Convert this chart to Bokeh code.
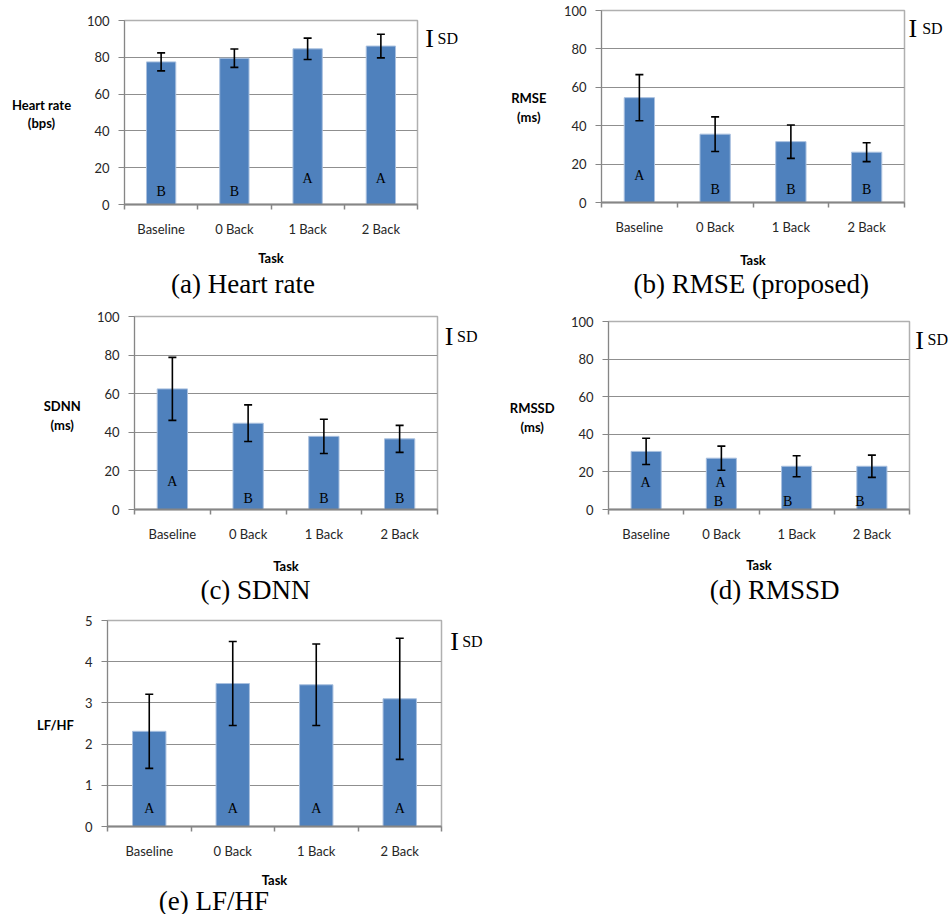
from bokeh.plotting import figure
from bokeh.models import Range1d, FixedTicker, TeeHead, Whisker, ColumnDataSource
from bokeh.layouts import column, row
from bokeh.core.properties import value
from bokeh.embed import file_html
from bokeh.resources import INLINE

# ---------------- data ----------------
tasks = ["Baseline", "0 Back", "1 Back", "2 Back"]

hr_mean = [77.5, 79.5, 84.6, 86.1]
hr_sd = [4.9, 5.0, 5.8, 6.4]
hr_groups = ["B", "B", "A", "A"]

rmse_mean = [54.6, 35.6, 31.7, 26.2]
rmse_sd = [12.0, 9.0, 8.7, 4.9]
rmse_groups = ["A", "B", "B", "B"]

sdnn_mean = [62.5, 44.7, 37.9, 36.6]
sdnn_sd = [16.3, 9.5, 8.9, 7.0]
sdnn_groups = ["A", "B", "B", "B"]

rmssd_mean = [30.9, 27.3, 23.0, 23.0]
rmssd_sd = [7.0, 6.4, 5.6, 5.9]
rmssd_groups = ["A", "AB", "B", "B"]

lfhf_mean = [2.31, 3.47, 3.44, 3.10]
lfhf_sd = [0.90, 1.02, 0.99, 1.47]
lfhf_groups = ["A", "A", "A", "A"]

ticks_pct = [0, 20, 40, 60, 80, 100]
ticks_ratio = [0, 1, 2, 3, 4, 5]

# ---------------- styling ----------------
SANS = "Lato"
SERIF = "Liberation Serif"
BAR = "#4f81bd"
AXIS = "#868686"


def add_text(p, x0, y0, items, font, size, style="normal", align="center", baseline="middle"):
    """Texts placed at pixel offsets (dx right, dy up) from the frame's lower-left corner."""
    src = ColumnDataSource(dict(
        x=[x0] * len(items), y=[y0] * len(items),
        text=[t for t, _, _ in items],
        dx=[d for _, d, _ in items],
        dy=[-e for _, _, e in items],
    ))
    p.text(x="x", y="y", text="text", x_offset="dx", y_offset="dy", source=src,
           level="overlay", text_font=value(font), text_font_size=value(size),
           text_font_style=style, text_align=align, text_baseline=baseline,
           text_color="black")


def make_panel(mean, sd, groups, y_ticks, ylab_lines, caption, L):
    n = len(tasks)
    centers = [i + 0.5 for i in range(n)]
    bounds = list(range(n + 1))
    p = figure(width=L["W"], height=L["H"],
               x_range=Range1d(0, n), y_range=Range1d(y_ticks[0], y_ticks[-1]),
               output_backend="svg", toolbar_location=None,
               min_border_left=L["left"], min_border_right=L["right"],
               min_border_top=L["top"], min_border_bottom=L["bottom"])
    if "frame_align" in p.properties():
        p.frame_align = False
    p.background_fill_color = "white"
    p.border_fill_color = "white"
    p.outline_line_color = "#b0b0b0"
    p.outline_line_width = 1.5
    p.xgrid.visible = False
    p.ygrid.grid_line_color = "#8f8f8f"
    p.ygrid.grid_line_width = 1

    src = ColumnDataSource(dict(
        x=centers, top=mean,
        upper=[m + s for m, s in zip(mean, sd)],
        lower=[m - s for m, s in zip(mean, sd)],
    ))
    p.vbar(x="x", top="top", bottom=y_ticks[0], width=0.4, source=src,
           fill_color=BAR, line_color="#a9c0df", line_width=1)
    p.add_layout(Whisker(source=src, base="x", upper="upper", lower="lower",
                         level="overlay", line_color="black", line_width=1.6,
                         upper_head=TeeHead(size=8, line_color="black", line_width=1.6),
                         lower_head=TeeHead(size=8, line_color="black", line_width=1.6)))

    # group letters (significance groups)
    ldx = L.get("letter_dx", [0] * n)
    lx, ly, lt, loff, lxo = [], [], [], [], []
    for c, g, d in zip(centers, groups, ldx):
        for ch in g:
            lx.append(c)
            ly.append(y_ticks[0])
            lt.append(ch)
            loff.append(-L["letter"][ch])
            lxo.append(d if ch == "B" else d * 0.3)
    p.text(x=lx, y=ly, text=lt, y_offset=loff, x_offset=lxo, text_align="center",
           text_baseline="middle", text_font=value(SERIF),
           text_font_size=value("14px"), text_color="black")

    # x axis
    xa = p.xaxis[0]
    xa.ticker = FixedTicker(ticks=centers, minor_ticks=bounds)
    xa.major_label_overrides = {c: t for c, t in zip(centers, tasks)}
    xa.major_tick_in = 0
    xa.major_tick_out = 0
    xa.minor_tick_in = 0
    xa.minor_tick_out = 5
    xa.minor_tick_line_color = AXIS
    xa.minor_tick_line_width = 1.5
    xa.axis_line_color = AXIS
    xa.axis_line_width = 2
    xa.major_label_standoff = 11
    xa.major_label_text_font = SANS
    xa.major_label_text_font_size = "13px"
    xa.major_label_text_color = "#262626"
    xa.axis_label = "Task"
    xa.axis_label_text_font = SANS
    xa.axis_label_text_font_style = "bold"
    xa.axis_label_text_font_size = "13px"
    xa.axis_label_text_color = "black"
    xa.axis_label_standoff = int(L["task_so"])

    # y axis
    ya = p.yaxis[0]
    ya.ticker = FixedTicker(ticks=y_ticks)
    ya.minor_tick_line_color = None
    ya.major_tick_in = 0
    ya.major_tick_out = 6
    ya.major_tick_line_color = AXIS
    ya.axis_line_color = AXIS
    ya.major_label_standoff = 9
    ya.major_label_text_font = SANS
    ya.major_label_text_font_size = "13px"
    ya.major_label_text_color = "#262626"

    x0, y0 = 0, y_ticks[0]
    # y label (horizontal, left of the axis)
    add_text(p, x0, y0, [(t, L["ylab_x"], yy) for t, yy in zip(ylab_lines, L["ylab_y"])],
             SANS, "13px", style="bold")
    # SD key: I-beam + "SD"
    add_text(p, x0, y0, [("I", L["sd_x"], L["sd_y"])], SERIF, "26px")
    add_text(p, x0, y0, [("SD", L["sd_tx"], L["sd_ty"])], SERIF, "16px", align="left")
    # caption
    add_text(p, x0, y0, [(caption, L["cap"][0], L["cap"][1])], SERIF, "27px")
    return p


pa = make_panel(hr_mean, hr_sd, hr_groups, ticks_pct, ["Heart rate", "(bps)"],
                "(a) Heart rate",
                dict(W=480, H=300, left=124, right=63, top=20, bottom=96,
                     ylab_x=-83, ylab_y=[99.7, 81.3], sd_x=305, sd_y=166.5,
                     sd_tx=313, sd_ty=166, cap=(118.5, -79), letter={"A": 25.7, "B": 13},
                     task_so=10))
pb = make_panel(rmse_mean, rmse_sd, rmse_groups, ticks_pct, ["RMSE", "(ms)"],
                "(b) RMSE (proposed)",
                dict(W=470, H=300, left=121, right=46, top=10, bottom=98,
                     ylab_x=-72.7, ylab_y=[104.3, 85.3], sd_x=311.3, sd_y=174,
                     sd_tx=320.7, sd_ty=173.7, cap=(149.8, -81.3), letter={"A": 26.7, "B": 13.4},
                     task_so=14))
pc = make_panel(sdnn_mean, sdnn_sd, sdnn_groups, ticks_pct, ["SDNN", "(ms)"],
                "(c) SDNN",
                dict(W=480, H=305, left=134, right=43, top=16, bottom=96,
                     ylab_x=-72.3, ylab_y=[103.7, 84.7], sd_x=314.5, sd_y=173.2,
                     sd_tx=322.5, sd_ty=173, cap=(121, -80.3), letter={"A": 28, "B": 10.7},
                     task_so=13))
pd_ = make_panel(rmssd_mean, rmssd_sd, rmssd_groups, ticks_pct, ["RMSSD", "(ms)"],
                 "(d) RMSSD",
                 dict(W=470, H=305, left=128, right=41, top=21, bottom=96,
                      ylab_x=-76.3, ylab_y=[101.7, 83], sd_x=311, sd_y=169.4,
                      sd_tx=319, sd_ty=169.7, cap=(166.2, -80.3), letter={"A": 26.7, "B": 8},
                      letter_dx=[-2, -3, -9, -12], task_so=12))
pe = make_panel(lfhf_mean, lfhf_sd, lfhf_groups, ticks_ratio, ["LF/HF"],
                "(e) LF/HF",
                dict(W=510, H=309, left=107, right=69, top=15, bottom=88,
                     ylab_x=-52, ylab_y=[101.7], sd_x=347, sd_y=184.7,
                     sd_tx=354.7, sd_ty=185, cap=(106.3, -74), letter={"A": 18.5, "B": 8},
                     task_so=10))

layout = column(row(pa, pb), row(pc, pd_), row(pe))
open("out.html", "w").write(file_html(layout, INLINE))
